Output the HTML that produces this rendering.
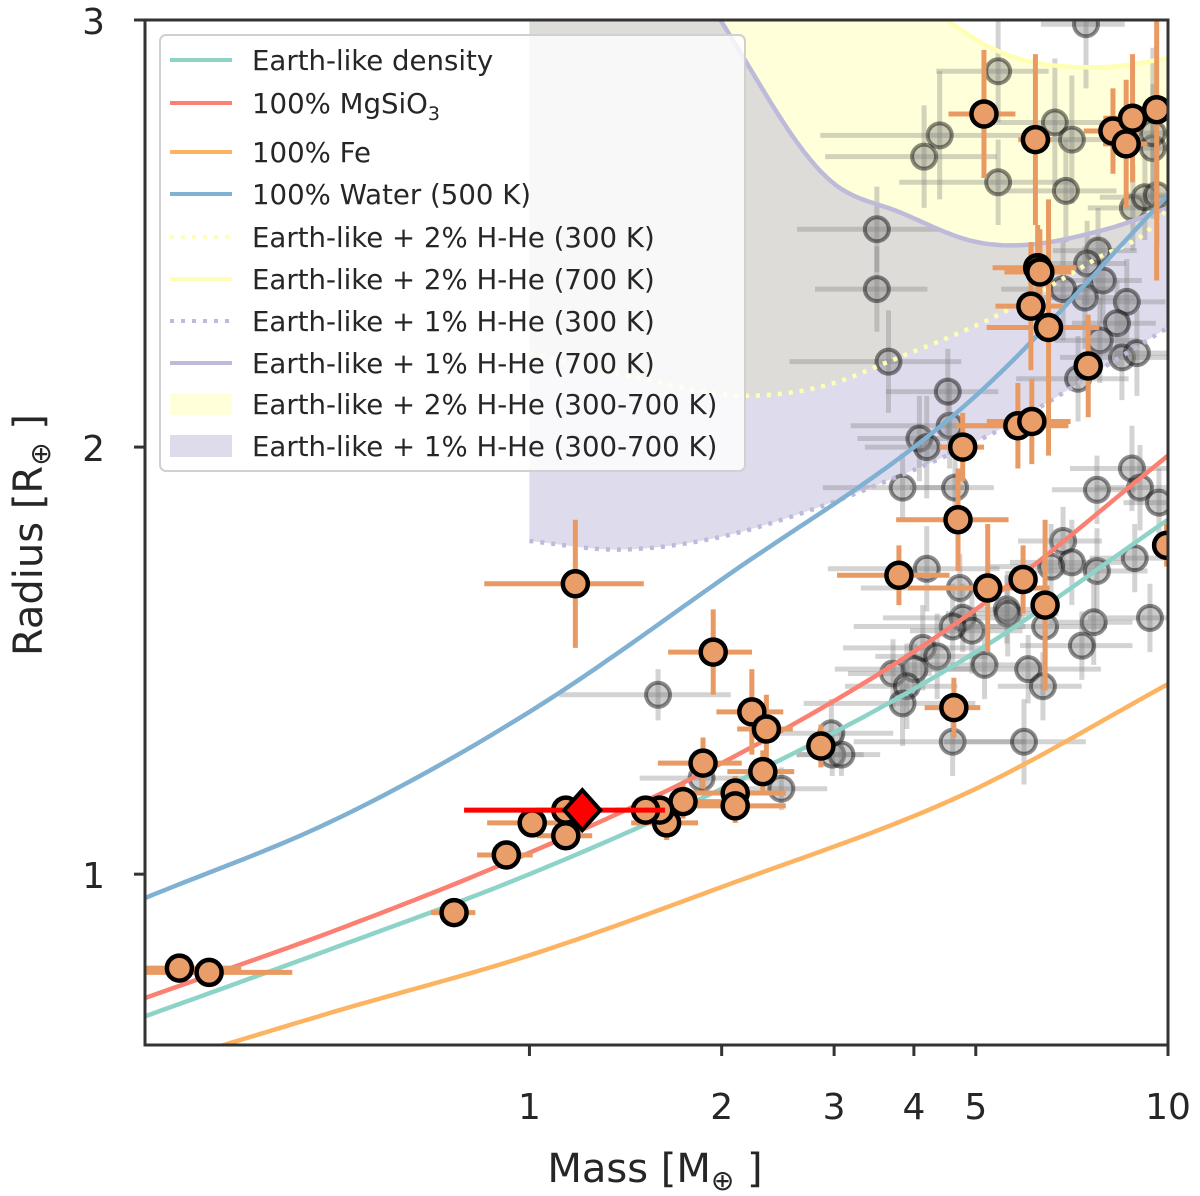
<!DOCTYPE html>
<html><head><meta charset="utf-8"><title>Mass-Radius diagram</title>
<style>
html,body{margin:0;padding:0;background:#fff;}
svg{display:block;font-family:"DejaVu Sans","Liberation Sans",sans-serif;}
</style></head>
<body>
<svg id="chart" width="1200" height="1196" viewBox="0 0 1200 1196" xmlns="http://www.w3.org/2000/svg">
<defs><clipPath id="plotclip"><rect x="145" y="20" width="1023" height="1025"/></clipPath></defs>
<g id="fills" clip-path="url(#plotclip)"></g>
<g id="grays" clip-path="url(#plotclip)"></g>
<g id="lines" clip-path="url(#plotclip)"></g>
<g id="oranges" clip-path="url(#plotclip)"></g>
<g id="target" clip-path="url(#plotclip)"></g>
<rect x="145" y="20" width="1023" height="1025" fill="none" stroke="#333" stroke-width="3"/>
<g id="axes"></g>
<g id="legend"></g>
<text x="655" y="1182" text-anchor="middle" font-size="40" fill="#262626">Mass [M<tspan font-size="28" dy="8">⊕</tspan><tspan dy="-8"> ]</tspan></text>
<text transform="translate(42,535) rotate(-90)" text-anchor="middle" font-size="40" fill="#262626">Radius [R<tspan font-size="28" dy="8">⊕</tspan><tspan dy="-8"> ]</tspan></text>
</svg>
<script>
// ---- data ----
const xTicks = [1, 2, 3, 4, 5, 10];
const xTickLabels = ["1", "2", "3", "4", "5", "10"];
const yTicks = [1, 2, 3];
const yTickLabels = ["1", "2", "3"];

const earthM = [0.25, 0.5, 1, 2, 5, 10];
const earthR = [0.667, 0.83, 1.0, 1.2, 1.52, 1.83];
const mgsio3M = [0.25, 0.5, 1, 2, 5, 10];
const mgsio3R = [0.71, 0.87, 1.05, 1.26, 1.62, 1.98];
const feM = [0.3, 0.5, 1, 2, 5, 10];
const feR = [0.58, 0.68, 0.81, 0.97, 1.2, 1.445];
const waterM = [0.25, 0.5, 1, 2, 5, 10];
const waterR = [0.944, 1.13, 1.38, 1.69, 2.12, 2.59];

const h2c300M = [1, 1.5, 2.2, 3.0, 3.65, 5.6, 7.7, 9.5, 10];
const h2c300R = [2.22, 2.16, 2.12, 2.15, 2.20, 2.32, 2.44, 2.52, 2.56];
const h2c700M = [1, 3, 4.5, 5.2, 8.0, 10];
const h2c700R = [3.6, 3.2, 3.0, 2.94, 2.89, 2.91];
const h1c300M = [1, 1.38, 1.85, 2.85, 3.62, 4.5, 5.6, 8.4, 10];
const h1c300R = [1.78, 1.76, 1.78, 1.86, 1.92, 1.98, 2.05, 2.21, 2.28];
const h1c700M = [1, 1.5, 1.99, 2.98, 3.8, 5.02, 8.0, 10];
const h1c700R = [3.7, 3.3, 3.0, 2.62, 2.55, 2.48, 2.51, 2.56];

const grayM = [2.48,1.86,2.98,1.59,3.84,4.64,7.74,8.78,9.04,9.68,4.19,6.85,7.07,6.56,7.74,8.87,4.72,5.59,5.61,4.77,4.93,4.60,6.42,7.65,9.37,7.33,4.13,4.35,3.71,4.01,3.90,5.16,6.04,6.37,3.84,4.60,5.95,3.08,2.97,4.55,4.08,4.19,7.44,5.42,4.39,4.15,5.42,6.65,7.07,6.92,8.81,9.20,9.61,9.47,3.50,3.50,3.65,4.52,7.77,7.47,7.91,7.41,8.62,8.32,7.82,8.47,8.94,7.23,6.85,9.47];
const grayR = [1.20,1.225,1.28,1.42,1.905,1.905,1.90,1.95,1.905,1.87,1.715,1.78,1.73,1.72,1.71,1.74,1.67,1.62,1.61,1.60,1.57,1.58,1.58,1.59,1.60,1.535,1.53,1.51,1.47,1.48,1.44,1.49,1.48,1.44,1.40,1.31,1.31,1.28,1.33,2.05,2.02,2.00,2.99,2.88,2.73,2.68,2.62,2.76,2.72,2.60,2.56,2.585,2.59,2.70,2.51,2.37,2.20,2.13,2.46,2.43,2.39,2.35,2.34,2.29,2.25,2.21,2.22,2.16,2.37,2.735];
const grayXe = [0.18,0.2,0.12,0.3,0.25,0.15,0.15,0.2,0.15,0.12,0.3,0.15,0.2,0.2,0.2,0.15,0.3,0.15,0.2,0.25,0.2,0.3,0.25,0.15,0.2,0.2,0.25,0.2,0.15,0.25,0.2,0.25,0.3,0.15,0.3,0.3,0.25,0.15,0.25,0.3,0.2,0.2,0.15,0.2,0.35,0.3,0.3,0.2,0.15,0.2,0.15,0.15,0.1,0.1,0.25,0.2,0.3,0.2,0.15,0.15,0.15,0.2,0.15,0.15,0.15,0.2,0.15,0.2,0.2,0.1];
const grayYe = [0.05,0.04,0.05,0.06,0.08,0.1,0.08,0.1,0.1,0.08,0.1,0.08,0.1,0.1,0.1,0.08,0.08,0.08,0.1,0.08,0.1,0.1,0.08,0.1,0.08,0.08,0.1,0.1,0.08,0.06,0.1,0.08,0.08,0.08,0.1,0.08,0.1,0.05,0.08,0.1,0.1,0.12,0.15,0.12,0.15,0.12,0.1,0.15,0.15,0.12,0.1,0.1,0.12,0.15,0.1,0.1,0.12,0.1,0.1,0.1,0.1,0.12,0.1,0.1,0.1,0.1,0.1,0.1,0.12,0.2];

const orangeM = [0.283,0.315,0.762,0.92,1.01,1.14,1.14,1.18,1.94,2.23,2.35,1.87,2.32,2.86,2.10,2.10,1.74,1.64,1.60,1.52,4.77,5.82,6.12,4.69,3.79,5.22,5.93,6.42,4.62,9.95,5.15,6.2,8.2,8.8,8.6,9.6,6.25,6.3,6.1,6.5,7.5];
const orangeR = [0.78,0.77,0.91,1.045,1.12,1.09,1.15,1.68,1.52,1.38,1.34,1.26,1.24,1.30,1.19,1.16,1.17,1.12,1.15,1.15,2.00,2.05,2.06,1.83,1.70,1.67,1.69,1.63,1.39,1.77,2.78,2.72,2.74,2.77,2.71,2.79,2.42,2.41,2.33,2.28,2.19];
const orangeXe = [0.25,0.35,0.08,0.1,0.15,0.1,0.1,0.28,0.15,0.12,0.1,0.15,0.12,0.05,0.2,0.2,0.15,0.12,0.1,0.1,0.08,0.2,0.15,0.2,0.2,0.25,0.05,0.05,0.1,0.04,0.12,0.06,0.1,0.1,0.08,0.03,0.15,0.12,0.12,0.2,0.05];
const orangeYe = [0.01,0.01,0.015,0.02,0.03,0.03,0.03,0.15,0.1,0.1,0.08,0.06,0.05,0.05,0.04,0.04,0.04,0.04,0.03,0.03,0.08,0.1,0.1,0.12,0.07,0.15,0.08,0.2,0.07,0.05,0.15,0.2,0.1,0.15,0.15,0.4,0.1,0.1,0.15,0.3,0.12];

const targetM = [1.21];
const targetR = [1.15];
const targetXlo = [0.42];
const targetXhi = [0.42];

// ---- scales ----
const X0 = 145, X1 = 1168, Y0 = 1045, Y1 = 20;
const mMin = 0.25, mMax = 10, rMin = 0.6, rMax = 3.0;
const xs = m => X0 + (Math.log10(m) - Math.log10(mMin)) / (Math.log10(mMax) - Math.log10(mMin)) * (X1 - X0);
const ys = r => Y0 - (r - rMin) / (rMax - rMin) * (Y0 - Y1);
const NS = "http://www.w3.org/2000/svg";
function mk(tag, attrs, parent) {
  const e = document.createElementNS(NS, tag);
  for (const k in attrs) e.setAttribute(k, attrs[k]);
  parent.appendChild(e);
  return e;
}
function curvePts(M, R) {
  const L = M.map(m => Math.log10(m));
  const n = L.length;
  const d = [];
  for (let i = 0; i < n - 1; i++) d.push((R[i + 1] - R[i]) / (L[i + 1] - L[i]));
  const s = [];
  for (let i = 0; i < n; i++) {
    if (i === 0) s.push(d[0]);
    else if (i === n - 1) s.push(d[n - 2]);
    else {
      const h0 = L[i] - L[i - 1], h1 = L[i + 1] - L[i];
      s.push((d[i - 1] * h1 + d[i] * h0) / (h0 + h1));
    }
  }
  const pts = [];
  for (let i = 0; i < n - 1; i++) {
    const h = L[i + 1] - L[i];
    for (let k = 0; k < 20; k++) {
      const t = k / 20;
      const h00 = 2*t*t*t - 3*t*t + 1, h10 = t*t*t - 2*t*t + t, h01 = -2*t*t*t + 3*t*t, h11 = t*t*t - t*t;
      const r = h00 * R[i] + h10 * h * s[i] + h01 * R[i + 1] + h11 * h * s[i + 1];
      pts.push([xs(Math.pow(10, L[i] + h * t)), ys(r)]);
    }
  }
  pts.push([xs(M[n - 1]), ys(R[n - 1])]);
  return pts;
}
const toD = p => "M" + p.map(q => q[0].toFixed(1) + "," + q[1].toFixed(1)).join("L");

// ---- fills ----
const fills = document.getElementById("fills");
function band(Mlo, Rlo, Mhi, Rhi, col, name) {
  const lo = curvePts(Mlo, Rlo), hi = curvePts(Mhi, Rhi).reverse();
  const p = mk("path", { d: toD(lo.concat(hi)) + "Z", fill: col, "fill-opacity": 0.5, stroke: "none" }, fills);
  
  
}
band(h2c300M, h2c300R, h2c700M, h2c700R, "#ffffb3", "band-2pct-hhe");
band(h1c300M, h1c300R, h1c700M, h1c700R, "#bebada", "band-1pct-hhe");

// ---- gray points ----
const grays = document.getElementById("grays");
for (let i = 0; i < grayM.length; i++) {
  const g = mk("g", {}, grays);
  
  
  const cx = xs(grayM[i]), cy = ys(grayR[i]);
  mk("line", { x1: xs(grayM[i] * (1 - grayXe[i])), x2: xs(grayM[i] * (1 + grayXe[i])), y1: cy, y2: cy, stroke: "#808080", "stroke-opacity": 0.35, "stroke-width": 5 }, g);
  mk("line", { x1: cx, x2: cx, y1: ys(grayR[i] - grayYe[i]), y2: ys(grayR[i] + grayYe[i]), stroke: "#808080", "stroke-opacity": 0.35, "stroke-width": 5 }, g);
  mk("circle", { cx: cx, cy: cy, r: 12, fill: "#808080", "fill-opacity": 0.4, stroke: "#000", "stroke-opacity": 0.45, "stroke-width": 4 }, g);
}

// ---- model lines ----
const lines = document.getElementById("lines");
function line(M, R, col, dash, name) {
  const a = { d: toD(curvePts(M, R)), fill: "none", stroke: col, "stroke-width": 4.5 };
  if (dash) { a["stroke-dasharray"] = "4 7"; }
  const p = mk("path", a, lines);
  
  
}
line(h1c300M, h1c300R, "#bebada", true, "line-1pct-300k");
line(h1c700M, h1c700R, "#bebada", false, "line-1pct-700k");
line(h2c300M, h2c300R, "#ffffb3", true, "line-2pct-300k");
line(h2c700M, h2c700R, "#ffffb3", false, "line-2pct-700k");
line(feM, feR, "#fdb462", false, "line-iron");
line(waterM, waterR, "#80b1d3", false, "line-water");
line(earthM, earthR, "#8dd3c7", false, "line-earth-like");
line(mgsio3M, mgsio3R, "#fb8072", false, "line-mgsio3");

// ---- orange points ----
const oranges = document.getElementById("oranges");
for (let i = 0; i < orangeM.length; i++) {
  const g = mk("g", {}, oranges);
  
  
  const cx = xs(orangeM[i]), cy = ys(orangeR[i]);
  mk("line", { x1: xs(orangeM[i] * (1 - orangeXe[i])), x2: xs(orangeM[i] * (1 + orangeXe[i])), y1: cy, y2: cy, stroke: "#e99a62", "stroke-width": 5 }, g);
  mk("line", { x1: cx, x2: cx, y1: ys(orangeR[i] - orangeYe[i]), y2: ys(orangeR[i] + orangeYe[i]), stroke: "#e99a62", "stroke-width": 5 }, g);
}
for (let i = 0; i < orangeM.length; i++) {
  const c = mk("circle", { cx: xs(orangeM[i]), cy: ys(orangeR[i]), r: 12.5, fill: "#e99e6a", stroke: "#000", "stroke-width": 4.5 }, oranges);
  
  
}

// ---- target ----
const tg = document.getElementById("target");
for (let i = 0; i < targetM.length; i++) {
  const cx = xs(targetM[i]), cy = ys(targetR[i]);
  const l = mk("line", { x1: xs(targetM[i] - targetXlo[i]), x2: xs(targetM[i] + targetXhi[i]), y1: cy, y2: cy, stroke: "#ff0000", "stroke-width": 5 }, tg);
  
  
  const d = mk("polygon", { points: `${cx},${cy - 20} ${cx + 18},${cy} ${cx},${cy + 20} ${cx - 18},${cy}`, fill: "#ff0000", stroke: "#000", "stroke-width": 4 }, tg);
  
  
}

// ---- axes ----
const axes = document.getElementById("axes");
for (let i = 0; i < xTicks.length; i++) {
  const x = xs(xTicks[i]);
  const t = mk("line", { x1: x, x2: x, y1: Y0, y2: Y0 + 11, stroke: "#333", "stroke-width": 3 }, axes);
  
  
  const l = mk("text", { x: x, y: Y0 + 74, "text-anchor": "middle", "font-size": 36, fill: "#262626" }, axes);
  l.textContent = xTickLabels[i];
  
  
}
for (let i = 0; i < yTicks.length; i++) {
  const y = ys(yTicks[i]);
  const t = mk("line", { x1: X0 - 11, x2: X0, y1: y, y2: y, stroke: "#333", "stroke-width": 3 }, axes);
  
  
  const l = mk("text", { x: X0 - 40, y: y + 14, "text-anchor": "end", "font-size": 36, fill: "#262626" }, axes);
  l.textContent = yTickLabels[i];
  
  
}

// ---- legend ----
const leg = document.getElementById("legend");
const lb = mk("rect", { x: 160, y: 35, width: 585, height: 436, rx: 6, fill: "#fff", "fill-opacity": 0.8, stroke: "#d0d0d0", "stroke-width": 2 }, leg);


const legLabels = ["Earth-like density", "100% MgSiO3", "100% Fe", "100% Water (500 K)", "Earth-like + 2% H-He (300 K)", "Earth-like + 2% H-He (700 K)", "Earth-like + 1% H-He (300 K)", "Earth-like + 1% H-He (700 K)", "Earth-like + 2% H-He (300-700 K)", "Earth-like + 1% H-He (300-700 K)"];
const legCols = ["#8dd3c7", "#fb8072", "#fdb462", "#80b1d3", "#ffffb3", "#ffffb3", "#bebada", "#bebada", "#ffffb3", "#bebada"];
const legKind = ["l", "l", "l", "l", "d", "l", "d", "l", "f", "f"];
const legY = [60, 103, 152, 194, 237, 279, 321, 363, 404, 446];
for (let i = 0; i < legLabels.length; i++) {
  const g = mk("g", {}, leg);
  
  
  const y = legY[i];
  if (legKind[i] === "f") {
    mk("rect", { x: 170, y: y - 11, width: 62, height: 22, fill: legCols[i], "fill-opacity": 0.5 }, g);
  } else {
    const a = { x1: 170, x2: 232, y1: y, y2: y, stroke: legCols[i], "stroke-width": 4 };
    if (legKind[i] === "d") a["stroke-dasharray"] = "4 7";
    mk("line", a, g);
  }
  const t = mk("text", { x: 252, y: y + 10, "font-size": 27.6, fill: "#262626" }, g);
  if (i === 1) {
    t.textContent = "100% MgSiO";
    const s = mk("tspan", { "font-size": 19, dy: 7 }, t);
    s.textContent = "3";
  } else {
    t.textContent = legLabels[i];
  }
}
</script>
</body></html>
